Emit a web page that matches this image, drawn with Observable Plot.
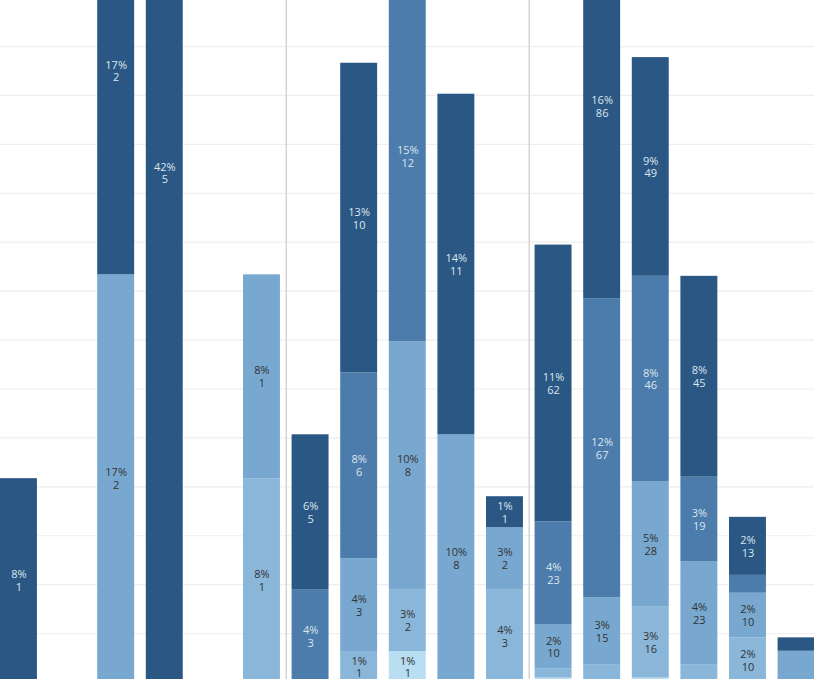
<!DOCTYPE html>
<html><head><meta charset="utf-8">
<script src="https://cdn.jsdelivr.net/npm/d3@7"></script>
<script src="https://cdn.jsdelivr.net/npm/@observablehq/plot@0.6"></script>
<style>
html,body{margin:0;padding:0;background:#fff;}
#chart{width:814px;height:679px;overflow:hidden;position:relative;}
#chart svg{overflow:hidden;display:block;}
</style></head><body><div id="chart"></div>
<script>
// Category slots (x), grouped into three panes
const slots = ["s1","s2","s3","s4","s5","s6","s7","s8","s9","s10","s11","s12","s13","s14","s15","s16","s17"];
const panelOf = [1,1,1,1,1,1, 2,2,2,2,2, 3,3,3,3,3,3];
// Colour series, stacked bottom to top
const series = ["A","B","C","D","E"];
const seriesColors = ["#b9ddf1","#8ab6da","#78a8cf","#4b7cab","#2a5783"];
const lightTextSeries = ["D","E"];
// Counts per slot for each series
const countsA = [0,0,0,0,0,0, 0,0,1,0,0, 1,0,1,0,0,0];
const countsB = [0,0,0,0,0,1, 0,1,2,0,3, 2,4,16,4,10,0];
const countsC = [0,0,2,0,0,1, 0,3,8,8,2, 10,15,28,23,10,7];
const countsD = [0,0,0,0,0,0, 3,6,12,0,0, 23,67,46,19,4,0];
const countsE = [1,0,2,5,0,0, 5,10,3,11,1, 62,86,49,45,13,3];
// Horizontal gridline values (% of pane total)
const gridTicks = [0,2,4,6,8,10,12,14,16,18,20,22,24,26,28];
// first slot of each new pane (pane dividers)
const paneBreaks = ["s7","s12"];
// slots whose labels Tableau suppressed
const unlabeledSlots = ["s17"];

const countsBySeries = [countsA, countsB, countsC, countsD, countsE];
const paneTotals = {};
slots.forEach((s, i) => {
  const p = panelOf[i];
  paneTotals[p] = (paneTotals[p] || 0) + countsBySeries.reduce((a, c) => a + c[i], 0);
});
const rows = [];
slots.forEach((s, i) => {
  series.forEach((k, j) => {
    const count = countsBySeries[j][i];
    if (!count) return;
    const pct = count / paneTotals[panelOf[i]] * 100;
    const show = pct >= 1 && !unlabeledSlots.includes(s);
    rows.push({slot: s, series: k, count, pct, label: show ? `${Math.round(pct)}%\n${count}` : ""});
  });
});

const xRange = [-11.66, 826.2];
const pad = 0.24;
const step = (xRange[1] - xRange[0]) / (slots.length + pad);

const textOpts = {fontSize: 11, lineHeight: 1.16, fontFamily: "Open Sans, sans-serif"};
const plot = Plot.plot({
  width: 814, height: 679,
  marginTop: 0, marginBottom: 0, marginLeft: 0, marginRight: 0,
  style: {background: "#fff", overflow: "hidden"},
  x: {domain: slots, range: xRange, padding: pad, round: false, axis: null},
  y: {domain: [0, 28], range: [682, 682 - 28 * 24.46], axis: null},
  color: {domain: series, range: seriesColors},
  marks: [
    Plot.ruleY(gridTicks, {y: d => d, stroke: "#eeeeee", strokeWidth: 1.2}),
    Plot.ruleX(paneBreaks, {x: d => d, dx: -step / 2, stroke: "#d4d4d4", strokeWidth: 1.5}),
    Plot.barY(rows, {x: "slot", y: "pct", z: "series", fill: "series"}),
    Plot.text(rows, Plot.stackY({x: "slot", y: "pct", z: "series",
      text: d => lightTextSeries.includes(d.series) ? "" : d.label, fill: "#333", ...textOpts})),
    Plot.text(rows, Plot.stackY({x: "slot", y: "pct", z: "series",
      text: d => lightTextSeries.includes(d.series) ? d.label : "", fill: "#dde5ee", ...textOpts}))
  ]
});
document.getElementById("chart").appendChild(plot);
</script></body></html>
